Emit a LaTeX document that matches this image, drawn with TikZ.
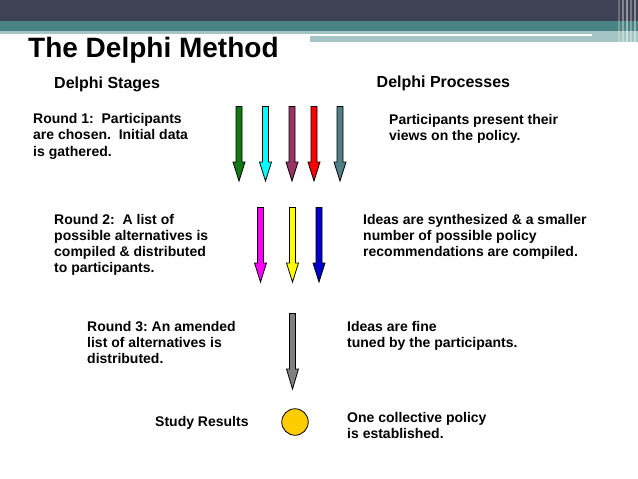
\documentclass[tikz,border=0pt]{standalone}
\usepackage{fontspec}
\setmainfont{Liberation Sans}
\frenchspacing
\definecolor{hdrdark}{HTML}{3F4155}
\definecolor{hdrteal}{HTML}{4A8384}
\definecolor{hdrlight}{HTML}{A5C5C5}
\definecolor{agreen}{HTML}{127812}
\definecolor{acyan}{HTML}{00FFFF}
\definecolor{apurple}{HTML}{993366}
\definecolor{ared}{HTML}{FF0000}
\definecolor{ateal}{HTML}{4F7F86}
\definecolor{amagenta}{HTML}{FF00FF}
\definecolor{ayellow}{HTML}{FFFF00}
\definecolor{ablue}{HTML}{0000CC}
\definecolor{agray}{HTML}{808080}
\definecolor{agold}{HTML}{FFCC00}
\newcommand\myBlockArrow[5]{%
  \draw[arrowbody, fill=#5] (#1-3,#2) -- (#1+3,#2) -- (#1+3,#3) -- (#1+6,#3)
    -- (#1,#4) -- (#1-6,#3) -- (#1-3,#3) -- cycle;}
\begin{document}
\begin{tikzpicture}[x=1pt,y=-1pt,
  arrowbody/.style={draw=black, line width=0.8pt, line join=miter},
  txt/.style={anchor=base west, inner sep=0pt, align=left, font=\fontsize{14}{16}\selectfont\bfseries},
  txtw/.style={txt, font=\fontsize{14}{16.5}\selectfont\bfseries},
  head/.style={anchor=base west, inner sep=0pt, font=\fontsize{16}{19}\selectfont\bfseries},
  ttl/.style={anchor=base west, inner sep=0pt, font=\fontsize{28}{32}\selectfont\bfseries}]
\useasboundingbox (0,0) rectangle (638,479);
\fill[white] (0,0) rectangle (638,479);
% header bands
\fill[hdrdark] (0,0) rectangle (638,21);
\fill[hdrteal] (0,21) rectangle (638,31);
\fill[hdrlight] (0,31) rectangle (310,33.5);
\fill[hdrlight] (310,31) rectangle (638,42);
\fill[white] (310,33.5) rectangle (592,35.5);
\foreach \xx/\op in {618/0.25,622/0.35,626/0.45,630/0.3,634/0.4}
  \fill[white, opacity=\op] (\xx,0) rectangle (\xx+2,42);
% title & headings
\node[ttl] (title) at (28,57) {The Delphi Method};
\node[head] (stages) at (54,88) {Delphi Stages};
\node[head] (procs) at (376.5,87.5) {Delphi Processes};
% texts (base anchor = baseline of last line)
\node[txtw] (r1) at (33,156) {Round 1:\ \ Participants\\are chosen.\ \ Initial data\\is gathered.};
\node[txtw] (p1) at (389,140.5) {Participants present their\\views on the policy.};
\node[txt] (r2) at (54,272) {Round 2:\ \ A list of\\possible alternatives is\\compiled \& distributed\\to participants.};
\node[txt] (p2) at (363,256) {Ideas are synthesized \& a smaller\\number of possible policy\\recommendations are compiled.};
\node[txt] (r3) at (87,363) {Round 3: An amended\\list of alternatives is\\distributed.};
\node[txt] (p3) at (347,347) {Ideas are fine\\tuned by the participants.};
\node[txt] (res) at (155,426) {Study Results};
\node[txt] (p4) at (347,438) {One collective policy\\is established.};
% arrows row 1
\myBlockArrow{239}{106.5}{162}{181}{agreen}
\myBlockArrow{265.5}{106.5}{162}{181}{acyan}
\myBlockArrow{292}{106.5}{162}{181}{apurple}
\myBlockArrow{314}{106.5}{162}{181}{ared}
\myBlockArrow{340}{106.5}{162}{181}{ateal}
% arrows row 2
\myBlockArrow{260.5}{207.5}{263}{282}{amagenta}
\myBlockArrow{292.5}{207.5}{263}{282}{ayellow}
\myBlockArrow{319}{207.5}{263}{282}{ablue}
% arrow row 3
\myBlockArrow{292.5}{313.5}{369}{389}{agray}
% result circle
\node[circle, draw=black, line width=0.8pt, fill=agold, minimum size=26.5pt, inner sep=0pt] (dot) at (295,422) {};
\end{tikzpicture}
\end{document}
